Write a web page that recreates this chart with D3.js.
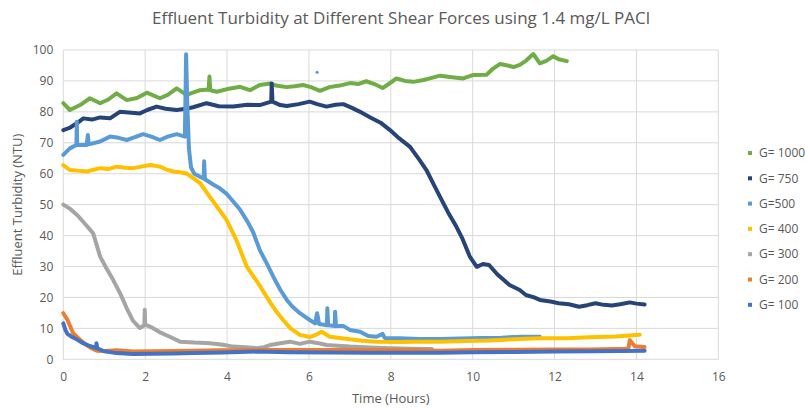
<!DOCTYPE html>
<html>
<head>
<meta charset="utf-8">
<script src="https://cdn.jsdelivr.net/npm/d3@7"></script>
<style>
  body { margin: 0; background: #fff; }
  text { font-family: "Open Sans", "Liberation Sans", sans-serif; fill: #595959; }
</style>
</head>
<body>
<div id="chart"></div>
<script>
// values: [hours, NTU]
const g1000 = [[0,82.8],[0.16,80.6],[0.41,82.2],[0.65,84.4],[0.9,82.8],[1.1,84],[1.3,86],[1.55,83.8],[1.8,84.5],[2.04,86.2],[2.36,84.4],[2.55,85.5],[2.77,87.6],[3.01,85.5],[3.34,87],[3.55,87.2],[3.57,91.4],[3.59,87],[3.75,86.5],[4.05,87.5],[4.32,88.1],[4.56,87],[4.8,88.7],[5.05,89.2],[5.2,88.5],[5.45,88],[5.65,88.3],[5.86,88.7],[6.05,88],[6.27,86.8],[6.5,88],[6.75,88.5],[7.0,89.3],[7.2,89],[7.4,89.9],[7.6,89],[7.8,87.7],[8.0,89.5],[8.14,90.8],[8.35,90],[8.55,89.7],[8.8,90.3],[9.0,91],[9.2,91.7],[9.5,91.2],[9.77,90.8],[10.0,91.9],[10.34,92],[10.5,94],[10.67,95.5],[10.85,95],[11.0,94.5],[11.15,95.2],[11.3,96.5],[11.48,98.7],[11.64,95.7],[11.8,96.5],[11.97,98],[12.1,97],[12.3,96.4]];
const g750 = [[0,74.1],[0.15,74.8],[0.33,76.3],[0.49,77.9],[0.7,77.5],[0.9,78.2],[1.14,77.9],[1.38,80],[1.6,79.8],[1.87,79.5],[2.05,80.6],[2.28,81.7],[2.5,81],[2.77,80.6],[3.0,81],[3.17,81.5],[3.5,82.8],[3.8,81.8],[4.15,81.7],[4.5,82.3],[4.8,82.2],[5.0,83],[5.08,83.3],[5.09,89.2],[5.11,83.3],[5.3,82.2],[5.46,81.9],[5.75,82.5],[6.02,83.3],[6.2,82.5],[6.43,81.7],[6.65,82.3],[6.84,82.5],[7.05,81.3],[7.25,80],[7.5,78.2],[7.75,76.5],[7.98,74.1],[8.2,71.5],[8.47,68.7],[8.7,64.5],[8.87,61.2],[9.05,56.5],[9.2,52.6],[9.4,47.5],[9.6,42.9],[9.75,39],[9.93,33.2],[10.1,29.9],[10.25,30.8],[10.4,30.5],[10.6,27.5],[10.9,24],[11.15,22.4],[11.3,20.8],[11.5,20],[11.64,19.2],[11.9,18.7],[12.1,18.1],[12.35,17.8],[12.6,17],[12.8,17.5],[13.0,18.1],[13.2,17.6],[13.4,17.4],[13.6,17.8],[13.84,18.4],[14.0,18],[14.2,17.7]];
const g500 = [[0,66.1],[0.16,68.2],[0.32,69.3],[0.33,76.8],[0.34,69.3],[0.57,69.3],[0.6,72.5],[0.62,69.5],[0.9,70.4],[1.14,72],[1.35,71.6],[1.55,70.9],[1.75,71.8],[1.95,72.8],[2.15,72],[2.36,70.9],[2.55,72],[2.77,72.8],[2.97,72],[3.0,98.6],[3.03,82],[3.07,68],[3.12,62],[3.2,60],[3.34,59],[3.43,58.5],[3.44,64],[3.46,58.2],[3.66,56.5],[3.8,55.5],[3.99,53.5],[4.15,51],[4.31,48.5],[4.5,44.5],[4.64,41],[4.8,35.3],[4.97,31],[5.13,26.7],[5.3,22.5],[5.46,19.2],[5.6,17],[5.78,14.9],[6.02,12.7],[6.15,11.6],[6.2,14.9],[6.25,11.4],[6.44,11],[6.45,16.5],[6.47,11],[6.63,10.8],[6.64,15.4],[6.66,10.8],[6.84,10.8],[7.0,9.5],[7.25,8.9],[7.45,7.5],[7.65,7.3],[7.8,8.2],[7.85,6.9],[8.22,6.8],[8.7,6.6],[9.2,6.6],[9.7,6.7],[10.2,6.9],[10.7,7],[11.2,7.3],[11.64,7.3]];
const g500stray = [[6.2,92.8]];
const g400 = [[0,62.8],[0.16,61.2],[0.35,61],[0.57,60.7],[0.9,61.8],[1.1,61.5],[1.3,62.3],[1.5,61.9],[1.71,61.8],[1.9,62.3],[2.12,62.8],[2.36,62.3],[2.55,61.2],[2.69,60.7],[2.85,60.5],[3.01,60.1],[3.34,57],[3.58,52.5],[3.8,48.5],[3.99,45],[4.23,38.5],[4.48,30],[4.8,23.8],[5.05,18.5],[5.2,15.5],[5.37,12.7],[5.55,10],[5.78,7.9],[6.02,7.2],[6.15,7.8],[6.31,8.9],[6.51,7.3],[6.75,6.9],[7.0,6.5],[7.3,6],[7.65,5.7],[8.2,5.6],[8.63,5.7],[9.2,5.7],[9.8,5.9],[10.4,6.1],[11.0,6.5],[11.64,6.8],[12.3,6.8],[12.86,7.1],[13.5,7.4],[14.08,7.9]];
const g300 = [[0,50],[0.15,48.8],[0.35,46.5],[0.55,43.5],[0.73,40.7],[0.9,33.2],[1.05,29.5],[1.22,25.6],[1.4,21],[1.55,16.5],[1.7,12.5],[1.87,10.1],[1.98,11],[1.99,16],[2.0,11.2],[2.13,10.5],[2.35,8.8],[2.6,7.3],[2.85,5.7],[3.2,5.4],[3.58,5.2],[3.9,4.7],[4.15,4.1],[4.45,3.9],[4.72,3.6],[4.9,3.9],[5.05,4.6],[5.3,5.2],[5.54,5.7],[5.78,5],[6.02,5.7],[6.2,5.3],[6.43,4.6],[6.7,4.4],[7.0,4.1],[7.49,3.8],[7.98,3.6],[8.5,3.4],[9.0,3.3]];
const g200 = [[0,14.9],[0.1,12.8],[0.24,8.4],[0.4,6.4],[0.57,4.6],[0.7,3.5],[0.82,2.8],[1.0,2.7],[1.3,2.9],[1.7,2.5],[2.2,2.6],[2.7,2.7],[3.17,2.8],[3.8,2.9],[4.72,3],[5.5,3],[6.5,3],[7.5,3],[8.5,3],[9.2,2.8],[10,3],[11,3.1],[12,3.2],[12.86,3.2],[13.5,3.3],[13.8,3.4],[13.84,6.2],[13.96,4.2],[14.2,4.0]];
const g100 = [[0,11.6],[0.05,9.5],[0.1,8.2],[0.2,7.3],[0.35,6.3],[0.48,5.2],[0.65,4.3],[0.8,3.6],[0.81,5.2],[0.83,3.5],[1.0,2.6],[1.3,2],[1.7,1.7],[2.2,1.8],[2.7,1.9],[3.17,2],[3.9,2.2],[4.72,2.5],[5.5,2.3],[6.5,2.2],[7.5,2.1],[8.5,2.1],[9.2,2.1],[10,2.3],[11,2.4],[12,2.5],[13,2.6],[14.2,2.8]];

const seriesNames = ['G= 1000', 'G= 750', 'G=500', 'G= 400', 'G= 300', 'G= 200', 'G= 100'];
const seriesColors = ['#70AD47', '#264478', '#5B9BD5', '#FFC000', '#A5A5A5', '#ED7D31', '#4472C4'];
const seriesData = [g1000, g750, g500, g400, g300, g200, g100];
const xTicks = [0, 2, 4, 6, 8, 10, 12, 14, 16];
const yTicks = [0, 10, 20, 30, 40, 50, 60, 70, 80, 90, 100];

const width = 805, height = 410;
const margin = { left: 63.3, right: 86.7, top: 50, bottom: 50.7 };

const svg = d3.select('#chart')
  .append('svg')
  .attr('width', width)
  .attr('height', height);

const xScale = d3.scaleLinear().domain([0, 16]).range([margin.left, width - margin.right]);
const yScale = d3.scaleLinear().domain([0, 100]).range([height - margin.bottom, margin.top]);

// gridlines
svg.append('g')
  .selectAll('line')
  .data(yTicks)
  .join('line')
  .attr('x1', xScale(0)).attr('x2', xScale(16))
  .attr('y1', d => yScale(d)).attr('y2', d => yScale(d))
  .attr('stroke', '#d9d9d9').attr('stroke-width', 1);

svg.append('g')
  .selectAll('line')
  .data(xTicks)
  .join('line')
  .attr('x1', d => xScale(d)).attr('x2', d => xScale(d))
  .attr('y1', yScale(0)).attr('y2', yScale(100))
  .attr('stroke', '#d9d9d9').attr('stroke-width', 1);

// tick labels
const yAxis = d3.axisLeft(yScale).tickValues(yTicks).tickSize(0).tickPadding(10);
svg.append('g')
  .attr('transform', `translate(${margin.left},0)`)
  .call(yAxis)
  .call(g => g.select('.domain').remove())
  .selectAll('text')
  .attr('font-size', 12)
  .attr('font-family', '"Open Sans", sans-serif')
  .attr('fill', '#595959');

const xAxis = d3.axisBottom(xScale).tickValues(xTicks).tickSize(0).tickPadding(13);
svg.append('g')
  .attr('transform', `translate(0,${yScale(0)})`)
  .call(xAxis)
  .call(g => g.select('.domain').remove())
  .selectAll('text')
  .attr('font-size', 12)
  .attr('font-family', '"Open Sans", sans-serif')
  .attr('fill', '#595959');

// series
const line = d3.line()
  .x(d => xScale(d[0]))
  .y(d => yScale(d[1]));

svg.append('g')
  .selectAll('path')
  .data(seriesData)
  .join('path')
  .attr('d', line)
  .attr('fill', 'none')
  .attr('stroke', (d, i) => seriesColors[i])
  .attr('stroke-width', 4)
  .attr('stroke-linejoin', 'round')
  .attr('stroke-linecap', 'round');

svg.append('g')
  .selectAll('circle')
  .data(g500stray)
  .join('circle')
  .attr('cx', d => xScale(d[0]))
  .attr('cy', d => yScale(d[1]))
  .attr('r', 1.6)
  .attr('fill', seriesColors[2]);

// title
svg.append('text')
  .attr('x', 401)
  .attr('y', 24)
  .attr('text-anchor', 'middle')
  .attr('font-size', 17)
  .text('Effluent Turbidity at Different Shear Forces using 1.4 mg/L PACl');

svg.append('text')
  .attr('transform', `translate(22,${(yScale(0) + yScale(100)) / 2}) rotate(-90)`)
  .attr('text-anchor', 'middle')
  .attr('font-size', 13)
  .text('Effluent Turbidity (NTU)');

svg.append('text')
  .attr('x', xScale(8))
  .attr('y', 403)
  .attr('text-anchor', 'middle')
  .attr('font-size', 13)
  .text('Time (Hours)');

// legend
const legend = svg.append('g')
  .selectAll('g')
  .data(seriesNames)
  .join('g')
  .attr('transform', (d, i) => `translate(750,${153 + i * 25.3})`);

legend.append('rect')
  .attr('x', -2).attr('y', -2)
  .attr('width', 4).attr('height', 4)
  .attr('fill', (d, i) => seriesColors[i]);

legend.append('text')
  .attr('x', 9)
  .attr('dy', '0.35em')
  .attr('font-size', 12)
  .text(d => d);
</script>
</body>
</html>
